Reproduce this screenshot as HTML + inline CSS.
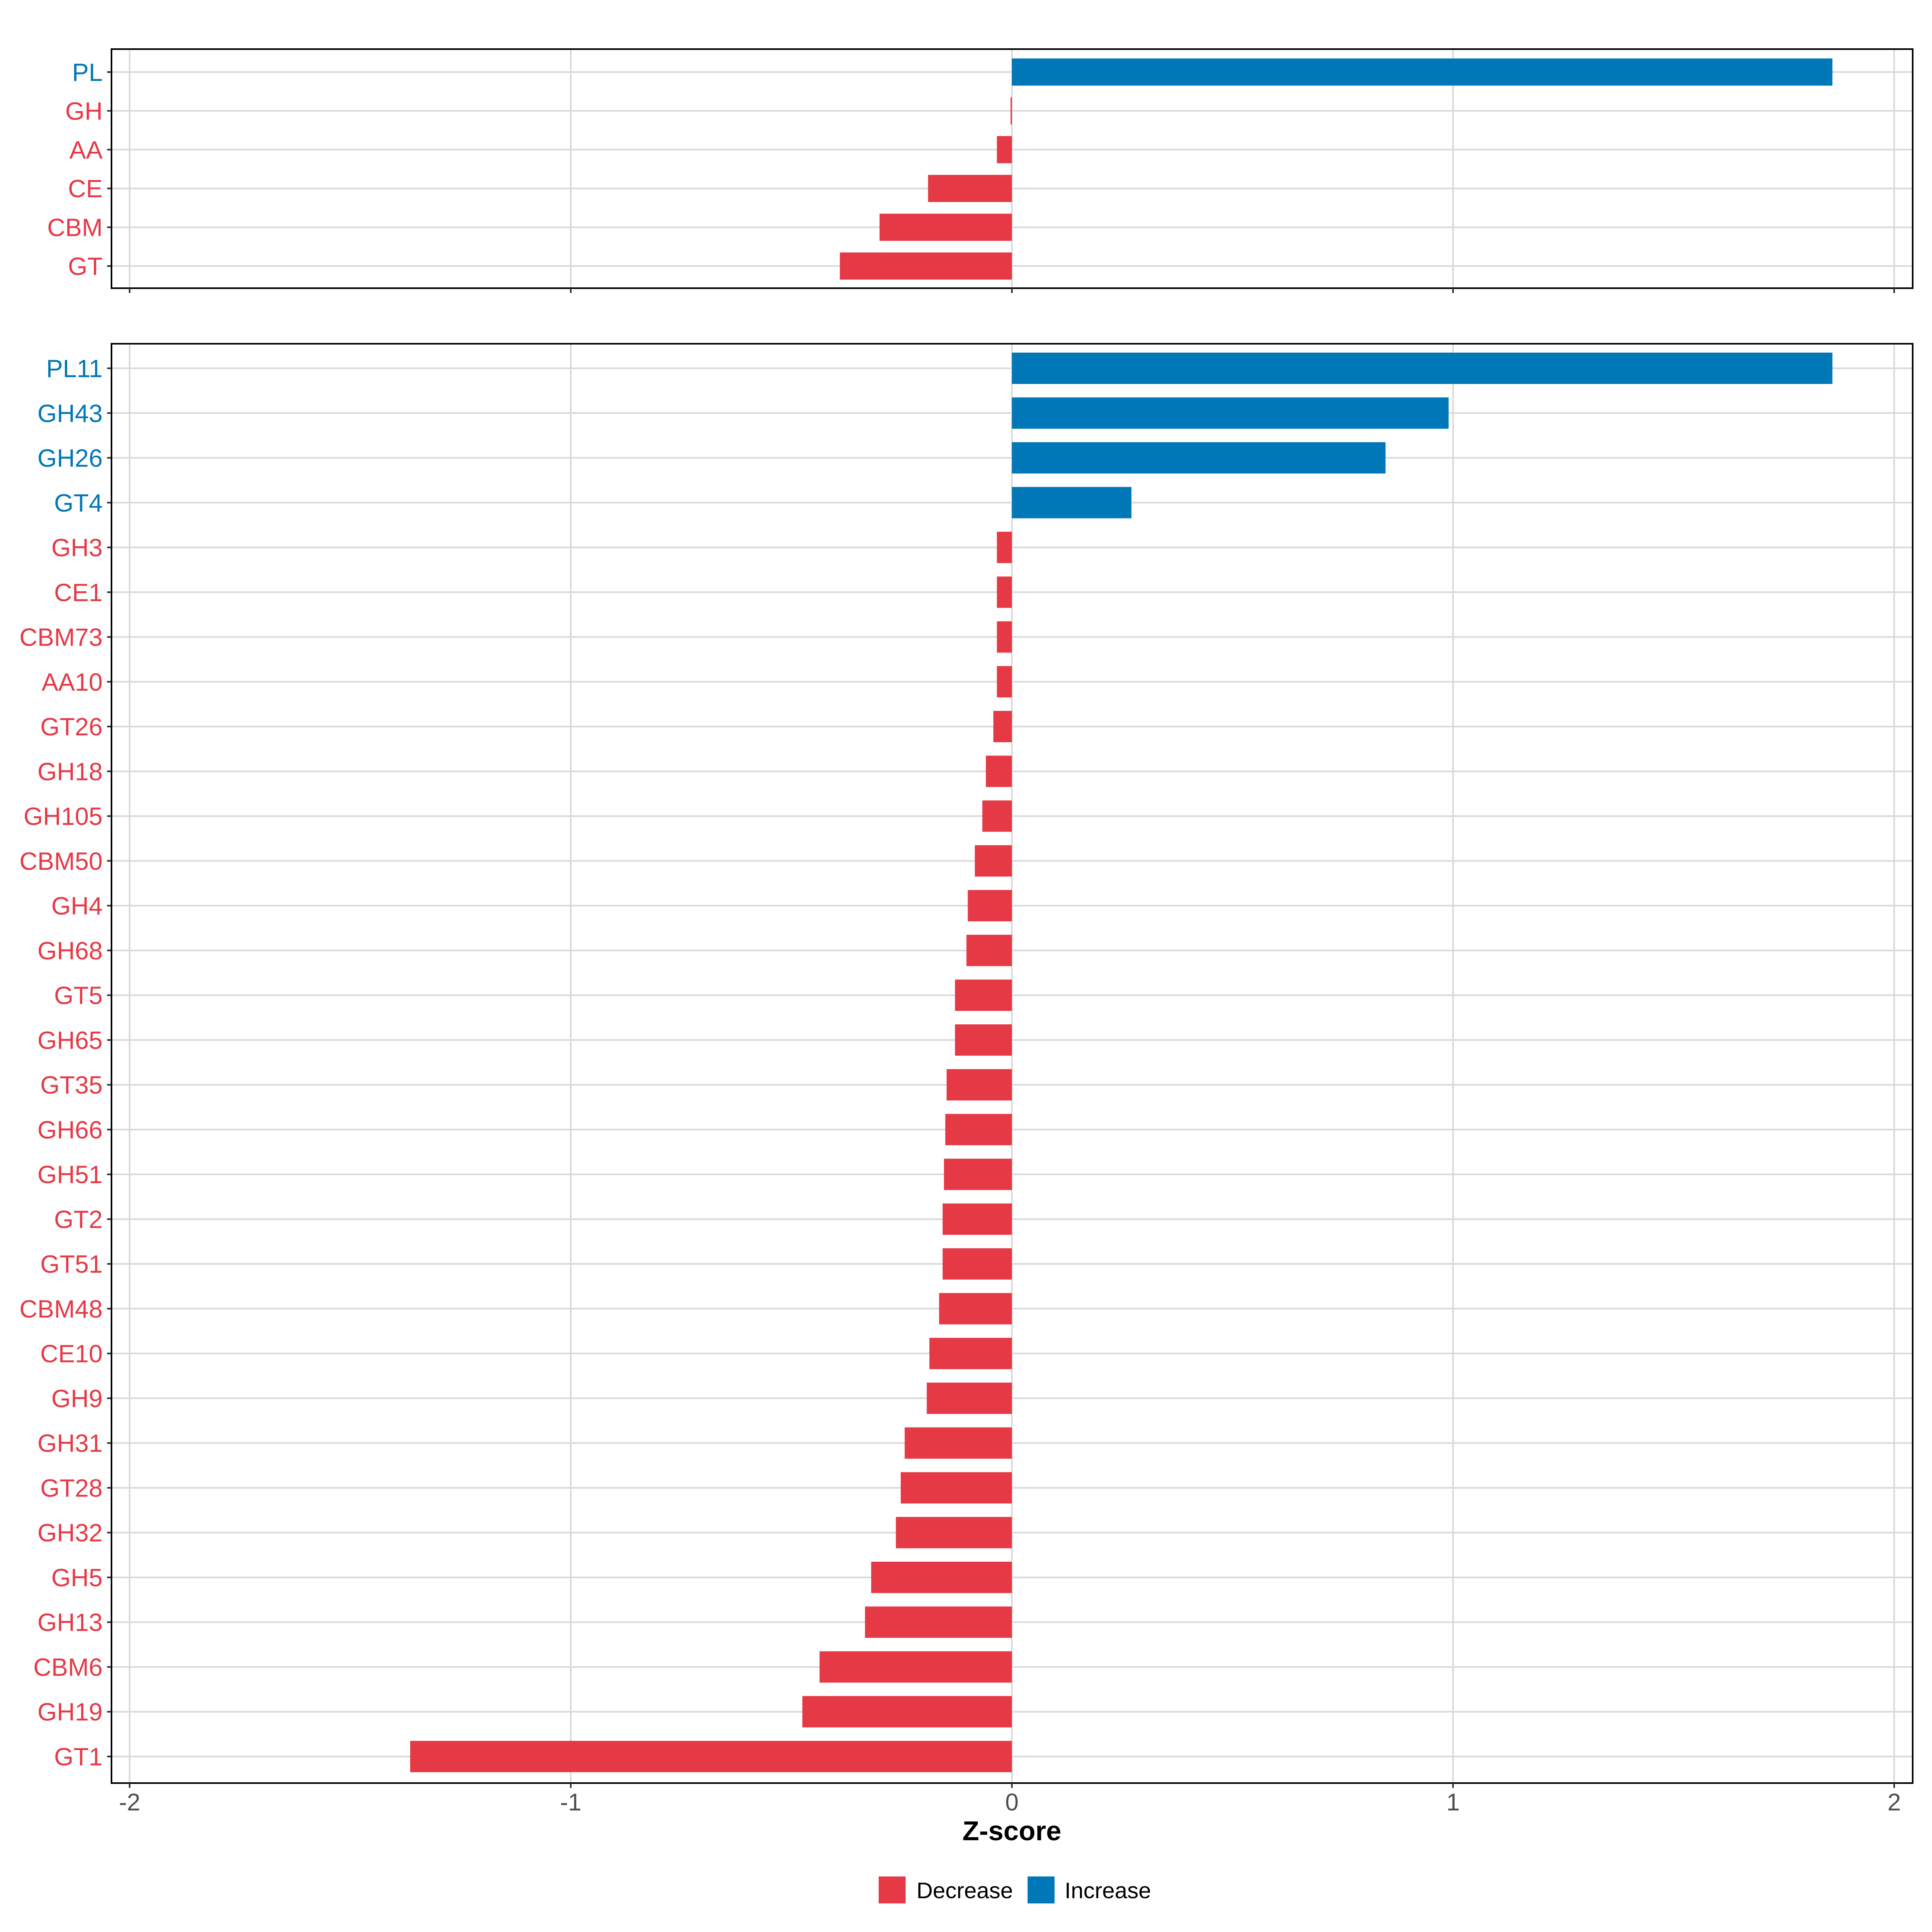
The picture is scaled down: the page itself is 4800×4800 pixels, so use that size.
<!DOCTYPE html>
<html><head><meta charset="utf-8"><style>html,body{margin:0;padding:0;background:#fff}svg{display:block}</style></head>
<body>
<svg id="chart" xmlns="http://www.w3.org/2000/svg" width="4800" height="4800" viewBox="0 0 4800 4800" font-family="Liberation Sans, sans-serif"></svg>
<script>
const topCategories = ["PL","GH","AA","CE","CBM","GT"];
const topValues = [1.86,-0.003,-0.034,-0.19,-0.30,-0.39];
const bottomCategories = ["PL11","GH43","GH26","GT4","GH3","CE1","CBM73","AA10","GT26","GH18","GH105","CBM50","GH4","GH68","GT5","GH65","GT35","GH66","GH51","GT2","GT51","CBM48","CE10","GH9","GH31","GT28","GH32","GH5","GH13","CBM6","GH19","GT1"];
const bottomValues = [1.86,0.99,0.847,0.271,-0.034,-0.034,-0.034,-0.034,-0.042,-0.059,-0.067,-0.084,-0.10,-0.103,-0.129,-0.129,-0.148,-0.151,-0.154,-0.157,-0.157,-0.165,-0.187,-0.193,-0.243,-0.252,-0.263,-0.319,-0.333,-0.436,-0.475,-1.364];
const xTicks = [-2,-1,0,1,2];
const xTickLabels = ["-2","-1","0","1","2"];

const RED="#e63946", BLUE="#0077b6", GRID="#d9d9d9";
const svg=document.getElementById('chart');
const NS="http://www.w3.org/2000/svg";
const L=277, R=4752;
function x(v){return 2514+v*1096;}
function mk(tag,attrs,parent){const e=document.createElementNS(NS,tag);for(const k in attrs)e.setAttribute(k,attrs[k]);(parent||svg).appendChild(e);return e;}

function panel(name,cats,vals,top,bottom,first,last,showLabels){
  const g=mk('g',{});
  
  
  const step=(last-first)/(cats.length-1);
  const y=i=>first+i*step;
  const bh=step*0.7;
  xTicks.forEach(t=>{
    const gl=mk('line',{x1:x(t),x2:x(t),y1:top,y2:bottom,stroke:GRID,'stroke-width':4},g);
    
    
  });
  cats.forEach((c,i)=>{
    const gl=mk('line',{x1:L,x2:R,y1:y(i),y2:y(i),stroke:GRID,'stroke-width':4},g);
    
    
  });
  cats.forEach((c,i)=>{
    const v=vals[i];
    const x0=Math.min(x(0),x(v)), w=Math.abs(x(v)-x(0));
    const b=mk('rect',{x:x0,y:y(i)-bh/2,width:Math.max(w,1),height:bh,fill:v>=0?BLUE:RED},g);
    
    
    const tk=mk('line',{x1:L-11,x2:L,y1:y(i),y2:y(i),stroke:'#333','stroke-width':4},g);
    
    
    const t=mk('text',{x:L-22,y:y(i)+22,'text-anchor':'end','font-size':62,fill:v>=0?BLUE:RED},g);
    t.textContent=c;
    
    
  });
  const bx=mk('rect',{x:L,y:top,width:R-L,height:bottom-top,fill:'none',stroke:'#000','stroke-width':4},g);
  
  
  xTicks.forEach((t,i)=>{
    const tk=mk('line',{x1:x(t),x2:x(t),y1:bottom,y2:bottom+12,stroke:'#333','stroke-width':4},g);
    
    
    if(showLabels){
      const tl=mk('text',{x:x(t),y:bottom+68,'text-anchor':'middle','font-size':60,fill:'#4d4d4d'},g);
      tl.textContent=xTickLabels[i];
      
      
    }
  });
}
panel('top-panel',topCategories,topValues,122,716,179,661,false);
panel('bottom-panel',bottomCategories,bottomValues,854,4430,915,4364,true);

const title=mk('text',{x:x(0),y:4572,'text-anchor':'middle','font-size':68,'font-weight':'bold',fill:'#000'});
title.textContent='Z-score';



const k1=mk('rect',{x:2183,y:4662,width:67,height:67,fill:RED});


const t1=mk('text',{x:2277,y:4716,'font-size':56,fill:'#000'});
t1.textContent='Decrease';


const k2=mk('rect',{x:2553,y:4662,width:67,height:67,fill:BLUE});


const t2=mk('text',{x:2645,y:4716,'font-size':56,fill:'#000'});
t2.textContent='Increase';


</script>
</body></html>
